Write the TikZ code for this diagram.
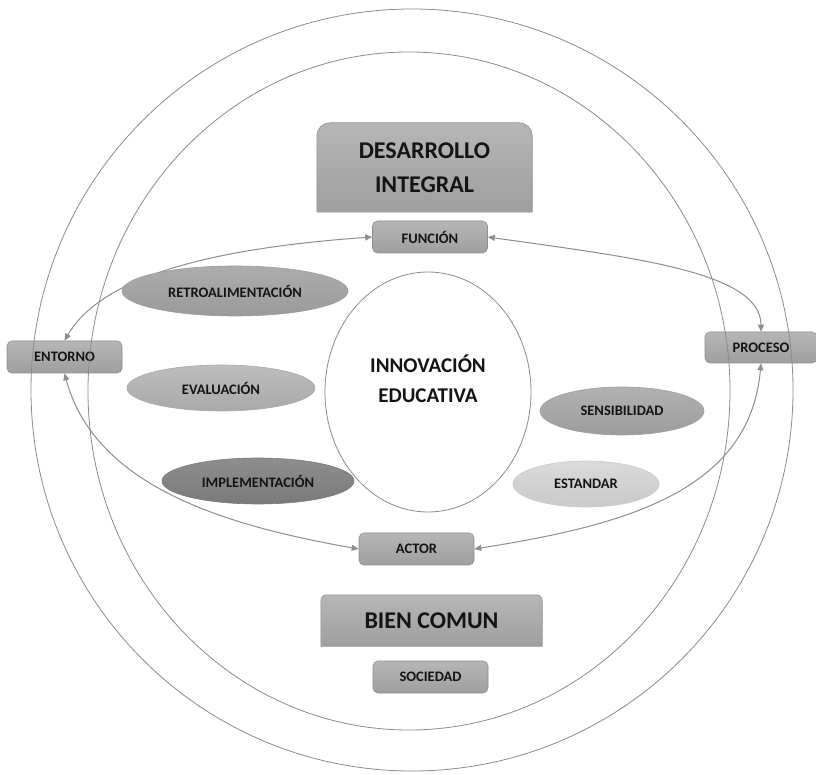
\documentclass[tikz,border=0pt]{standalone}
\usepackage{fontspec}
\setmainfont{Carlito}
\usetikzlibrary{arrows.meta,backgrounds,shapes.geometric}
\definecolor{ringc}{HTML}{8C8C8C}
\definecolor{arrc}{HTML}{8E8E8E}
\definecolor{txtc}{HTML}{141414}
\definecolor{boxt}{HTML}{B6B6B6}
\definecolor{boxb}{HTML}{9F9F9F}
\definecolor{boxd}{HTML}{8E8E8E}
\definecolor{retT}{HTML}{ADADAD}
\definecolor{retB}{HTML}{9A9A9A}
\definecolor{evaT}{HTML}{BDBDBD}
\definecolor{evaB}{HTML}{A9A9A9}
\definecolor{impT}{HTML}{8E8E8E}
\definecolor{impB}{HTML}{7A7A7A}
\definecolor{senT}{HTML}{B1B1B1}
\definecolor{senB}{HTML}{9D9D9D}
\definecolor{estT}{HTML}{DADADA}
\definecolor{estB}{HTML}{CACACA}
\begin{document}
\begin{tikzpicture}[x=1pt,y=1pt,
  txt/.style={text=txtc, font=\bfseries\fontsize{14.5}{17}\selectfont},
  smallbox/.style={txt, rectangle, rounded corners=5pt, draw=boxd, line width=0.6pt,
    top color=boxt, bottom color=boxb, minimum width=115pt, minimum height=32pt, inner sep=0pt},
  bigtxt/.style={text=txtc, font=\bfseries\fontsize{24}{34}\selectfont, align=center, inner sep=0pt},
  bigshape/.style={draw=boxd, line width=0.6pt, top color=boxt, bottom color=boxb},
  oval/.style={txt, ellipse, inner sep=0pt, line width=0.6pt},
  ring/.style={draw=ringc, line width=0.8pt},
  link/.style={draw=arrc, line width=1pt,
    {Triangle[length=7pt,width=6pt]}-{Triangle[length=7pt,width=6pt]}},
]
\clip (0,0) rectangle (816,774);

% small boxes
\node[smallbox] (fun) at (430,537) {FUNCIÓN};
\node[smallbox] (ent) at (64.5,417) {ENTORNO};
\node[smallbox, minimum width=112pt, minimum height=31pt] (pro) at (761,426.5) {PROCESO};
\node[smallbox] (act) at (416.5,225) {ACTOR};
\node[smallbox] (soc) at (430.5,97) {SOCIEDAD};

% big boxes (rounded top corners only)
\node[bigtxt, minimum width=215pt, minimum height=89pt] (des) at (424.5,606.5) {DESARROLLO\\INTEGRAL};
\node[bigtxt, minimum width=221pt, minimum height=51pt] (bien) at (431.5,153.5) {BIEN COMUN};
\begin{scope}[on background layer]
  \fill[white] (0,0) rectangle (816,774);
  \shade[bigshape] (des.south west) [rounded corners=13pt] -- (des.north west) -- (des.north east) [sharp corners] -- (des.south east) -- cycle;
  \shade[bigshape] (bien.south west) [rounded corners=6pt] -- (bien.north west) -- (bien.north east) [sharp corners] -- (bien.south east) -- cycle;
\end{scope}

% connectors
\draw[link] (ent.north) .. controls (102,498) and (213.4,525.8) .. (fun.west);
\draw[link] (fun.east) .. controls (635.5,516.1) and (761,502) .. (pro.north);
\draw[link] (ent.south) .. controls (95.6,285.1) and (231,247.6) .. (act.west);
\draw[link] (pro.south) .. controls (749.7,281.5) and (622.2,248.4) .. (act.east);

% central ellipse
\node[ellipse, draw=ringc, line width=0.8pt, fill=white, minimum width=206pt, minimum height=240pt, inner sep=0pt] (inno) at (428,382) {};
\node[text=txtc, font=\bfseries\fontsize{21}{30}\selectfont, align=center, inner sep=0pt] (innotxt) at (428,395) {INNOVACIÓN\\EDUCATIVA};

% ovals
\node[oval, draw=retB, top color=retT, bottom color=retB, minimum width=226pt, minimum height=50pt] (retro) at (235,483) {RETROALIMENTACIÓN};
\node[oval, draw=evaB, top color=evaT, bottom color=evaB, minimum width=188pt, minimum height=46pt] (eval) at (221,386) {EVALUACIÓN};
\node[oval, draw=impB, top color=impT, bottom color=impB, minimum width=192pt, minimum height=46pt] (impl) at (258,293) {IMPLEMENTACIÓN};
\node[oval, draw=senB, top color=senT, bottom color=senB, minimum width=164pt, minimum height=48pt] (sens) at (622,363) {SENSIBILIDAD};
\node[oval, draw=estB, top color=estT, bottom color=estB, minimum width=146pt, minimum height=46pt] (est) at (586,290) {ESTANDAR};

% rings
\draw[ring] (412,384) circle[radius=381];
\draw[ring] (409,383) ellipse[x radius=321, y radius=339];
\end{tikzpicture}
\end{document}
